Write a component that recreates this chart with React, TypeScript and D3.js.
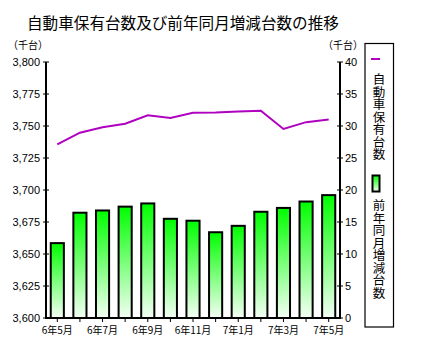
import React from "react";
import * as d3 from "d3";

const months = ["6年5月","6年6月","6年7月","6年8月","6年9月","6年10月","6年11月","6年12月","7年1月","7年2月","7年3月","7年4月","7年5月"];
const tickLabelMonths = ["6年5月","6年7月","6年9月","6年11月","7年1月","7年3月","7年5月"];
const holdings = [3735.7,3744.8,3749,3751.8,3758.4,3756.3,3760.4,3760.6,3761.3,3762,3747.7,3753,3755];
const changes = [11.7,16.45,16.8,17.4,17.9,15.5,15.2,13.4,14.4,16.6,17.2,18.2,19.2];
const leftTicks = [3600,3625,3650,3675,3700,3725,3750,3775,3800];
const rightTicks = [0,5,10,15,20,25,30,35,40];

const W = 437, H = 360;
const L = 46, R = 340, T = 62, B = 318;
const jp = "'Noto Sans CJK JP', sans-serif";
const num = "'Liberation Sans', Arial, sans-serif";

export default function App() {
  const x = d3.scaleBand<string>().domain(months).range([L, R]).paddingInner(0.42).paddingOuter(0.21);
  const yL = d3.scaleLinear().domain([3600, 3800]).range([B, T]);
  const yR = d3.scaleLinear().domain([0, 40]).range([B, T]);
  const line = d3.line<number>().x((_, i) => (x(months[i]) as number) + x.bandwidth() / 2).y(d => yL(d));
  const fmt = d3.format(",");
  return (
    <svg width={W} height={H} style={{ position: "absolute", left: 0, top: 0, background: "#fff" }}>
      <defs>
        <linearGradient id="g" x1="0" y1="0" x2="0" y2="1">
          <stop offset="0" stopColor="#00ff00" />
          <stop offset="1" stopColor="#f4fff4" />
        </linearGradient>
      </defs>
      <text x={27} y={29} fontFamily={jp} fontSize={15.6} fill="#000">自動車保有台数及び前年同月増減台数の推移</text>
      <text x={8} y={49} fontFamily={jp} fontSize={10.5} fill="#000" textLength={40} lengthAdjust="spacingAndGlyphs">（千台）</text>
      <text x={323} y={49} fontFamily={jp} fontSize={10.5} fill="#000" textLength={40} lengthAdjust="spacingAndGlyphs">（千台）</text>
      {months.map((m, i) => (
        <rect key={m} x={x(m)} y={yR(changes[i])} width={x.bandwidth()} height={B - yR(changes[i])}
          fill="url(#g)" stroke="#000" strokeWidth={2} />
      ))}
      <path d={line(holdings) || ""} fill="none" stroke="#b000c0" strokeWidth={2} />
      <line x1={L} y1={T} x2={L} y2={B + 1} stroke="#000" strokeWidth={2} />
      <line x1={R} y1={T} x2={R} y2={B + 1} stroke="#000" strokeWidth={2} />
      <line x1={L - 1} y1={B} x2={R + 1} y2={B} stroke="#000" strokeWidth={2} />
      {leftTicks.map(t => (
        <g key={t}>
          <line x1={L - 3} x2={L + 3} y1={yL(t)} y2={yL(t)} stroke="#000" strokeWidth={1} />
          <text x={L - 6} y={yL(t) + 4} textAnchor="end" fontFamily={num} fontSize={11} fill="#000">{fmt(t)}</text>
        </g>
      ))}
      {rightTicks.map(t => (
        <g key={t}>
          <line x1={R - 3} x2={R + 3} y1={yR(t)} y2={yR(t)} stroke="#000" strokeWidth={1} />
          <text x={R + 5} y={yR(t) + 4} textAnchor="start" fontFamily={num} fontSize={11} fill="#000">{t}</text>
        </g>
      ))}
      {months.map(m => (
        <line key={m} x1={(x(m) as number) + x.bandwidth() / 2} x2={(x(m) as number) + x.bandwidth() / 2} y1={B} y2={B + 4} stroke="#000" strokeWidth={1} />
      ))}
      {tickLabelMonths.map(m => (
        <text key={m} x={(x(m) as number) + x.bandwidth() / 2} y={334} textAnchor="middle" fontFamily={jp} fontSize={10} fill="#000">{m}</text>
      ))}
      <rect x={365} y={43.5} width={28.5} height={283.5} fill="#fff" stroke="#000" strokeWidth={1.2} />
      <line x1={371} x2={380} y1={59} y2={59} stroke="#b000c0" strokeWidth={2} />
      <text x={379} y={73} fontFamily={jp} fontSize={12.5} fill="#000" style={{ writingMode: "vertical-rl" as any }}>自動車保有台数</text>
      <rect x={372.5} y={175.5} width={7} height={16} fill="url(#g)" stroke="#000" strokeWidth={2} />
      <text x={379} y={199} fontFamily={jp} fontSize={12.5} fill="#000" style={{ writingMode: "vertical-rl" as any }}>前年同月増減台数</text>
    </svg>
  );
}
